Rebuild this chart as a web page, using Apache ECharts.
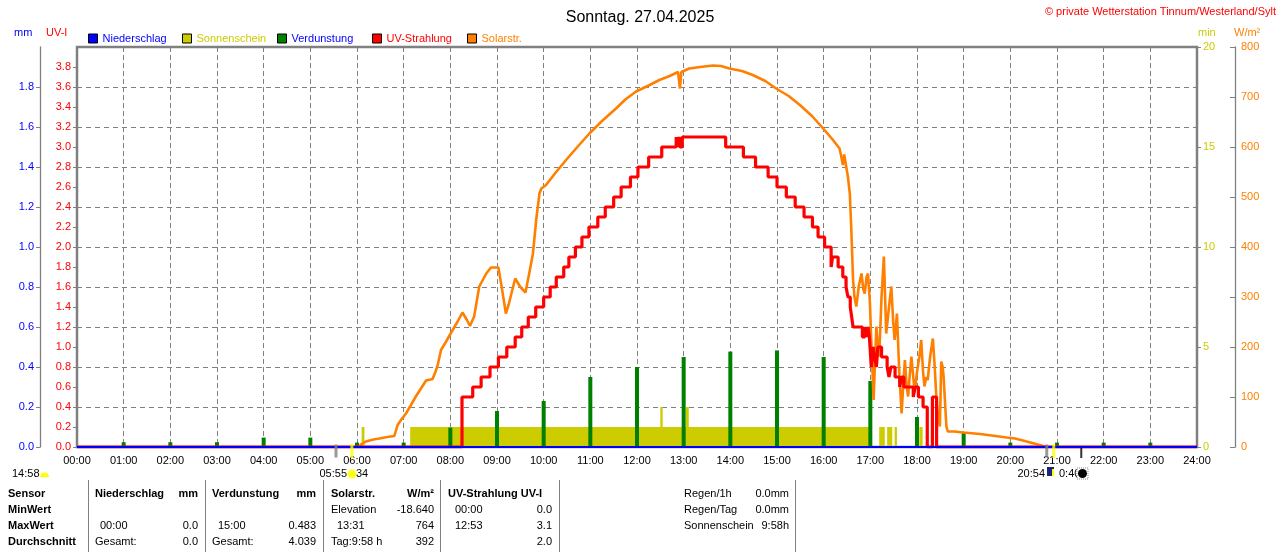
<!DOCTYPE html>
<html><head><meta charset="utf-8">
<script src="https://cdn.jsdelivr.net/npm/echarts/dist/echarts.min.js"></script>
<style>html,body{margin:0;padding:0;background:#fff}#c{width:1280px;height:552px}</style>
</head><body><div id="c"></div>
<script>
// ---- data (time in hours of day) ----
const titleText = 'Sonntag. 27.04.2025';
const seriesNames = ['Niederschlag', 'Sonnenschein', 'Verdunstung', 'UV-Strahlung', 'Solarstr.'];
const niederschlag = [[0,0],[1,0],[2,0],[3,0],[4,0],[5,0],[6,0],[7,0],[8,0],[9,0],[10,0],[11,0],[12,0],[13,0],[14,0],[15,0],[16,0],[17,0],[18,0],[19,0],[20,0],[21,0],[22,0],[23,0],[24,0]];
const verdunstung = [[1,0.024],[2,0.024],[3,0.024],[4,0.047],[5,0.047],[6,0.022],[7,0.022],[8,0.097],[9,0.18],[10,0.23],[11,0.35],[12,0.40],[13,0.45],[14,0.477],[15,0.483],[16,0.45],[17,0.33],[18,0.15],[19,0.07],[20,0.022],[21,0.022],[22,0.022],[23,0.022]];
const sonnenschein = [[6.10,6.16,1],[7.14,16.97,1],[12.50,12.55,2],[13.05,13.11,2],[17.19,17.31,1],[17.36,17.47,1],[17.52,17.57,1],[18.05,18.12,1]];
const uvStrahlung = [[0,0],[8.25,0.5],[8.48,0.6],[8.66,0.7],[8.85,0.8],[9.03,0.9],[9.21,1.0],[9.39,1.1],[9.53,1.2],[9.67,1.3],[9.83,1.4],[10.00,1.5],[10.14,1.6],[10.27,1.7],[10.43,1.8],[10.54,1.9],[10.68,2.0],[10.82,2.1],[10.97,2.2],[11.16,2.3],[11.32,2.4],[11.50,2.5],[11.66,2.6],[11.86,2.7],[12.02,2.8],[12.25,2.9],[12.53,3.0],[12.84,3.1],[12.87,3.0],[12.90,3.1],[12.92,3.0],[12.97,3.1],[13.90,3.0],[14.28,2.9],[14.54,2.8],[14.81,2.7],[15.00,2.6],[15.20,2.5],[15.39,2.4],[15.58,2.3],[15.76,2.2],[15.88,2.1],[16.02,2.0],[16.16,1.8],[16.19,1.9],[16.31,1.8],[16.41,1.7],[16.48,1.6],[16.52,1.5],[16.57,1.4],[16.60,1.3],[16.63,1.2],[16.83,1.1],[16.88,1.2],[16.91,1.1],[16.95,1.2],[16.98,1.1],[17.02,0.8],[17.06,1.0],[17.09,0.9],[17.13,0.8],[17.16,1.0],[17.24,0.9],[17.31,0.9],[17.36,0.8],[17.40,0.7],[17.44,0.8],[17.53,0.7],[17.63,0.6],[17.67,0.7],[17.72,0.6],[17.92,0.5],[17.96,0.6],[18.03,0.5],[18.13,0.4],[18.22,0],[18.33,0.5],[18.42,0],[24,0]];
const solarStr = [[6.03,0],[6.10,6],[6.19,11],[6.35,15],[6.48,17],[6.65,20],[6.80,22],[6.87,44],[6.95,55],[7.05,67],[7.15,83],[7.26,101],[7.37,117],[7.48,133],[7.62,136],[7.68,150],[7.73,164],[7.80,194],[7.91,211],[8.05,234],[8.15,250],[8.26,269],[8.35,255],[8.42,242],[8.51,261],[8.62,321],[8.77,347],[8.87,359],[9.03,359],[9.10,320],[9.19,267],[9.25,285],[9.39,337],[9.50,320],[9.61,309],[9.69,347],[9.77,387],[9.84,454],[9.91,507],[9.95,517],[10.05,524],[10.25,548],[10.48,574],[10.75,603],[10.98,627],[11.25,652],[11.55,677],[11.75,695],[11.98,711],[12.25,723],[12.48,734],[12.70,742],[12.88,750],[12.92,717],[12.95,750],[13.12,757],[13.35,760],[13.63,763],[13.80,762],[13.98,757],[14.25,752],[14.48,744],[14.75,732],[14.98,717],[15.25,702],[15.49,684],[15.75,662],[15.99,637],[16.20,614],[16.34,597],[16.38,580],[16.41,564],[16.44,585],[16.47,581],[16.52,540],[16.56,507],[16.59,441],[16.63,334],[16.66,300],[16.70,281],[16.75,320],[16.81,347],[16.85,315],[16.88,307],[16.92,340],[16.95,347],[16.99,290],[17.02,214],[17.07,94],[17.10,170],[17.13,241],[17.16,200],[17.19,181],[17.24,300],[17.29,381],[17.32,290],[17.34,227],[17.40,280],[17.45,321],[17.49,250],[17.52,214],[17.57,267],[17.62,150],[17.67,67],[17.71,130],[17.74,174],[17.78,120],[17.81,101],[17.85,150],[17.88,181],[17.92,140],[17.95,110],[18.00,150],[18.05,180],[18.09,214],[18.13,150],[18.16,121],[18.20,140],[18.23,134],[18.28,180],[18.34,217],[18.38,160],[18.41,107],[18.45,60],[18.49,41],[18.52,171],[18.55,160],[18.57,141],[18.60,90],[18.63,41],[18.66,31],[18.80,31],[18.99,29],[19.35,26],[19.60,23],[19.92,19],[20.10,17],[20.35,11],[20.55,6],[20.70,2],[20.80,0]];
// twilight / sunrise-sunset / moon markers below the time axis
const markerTimes = [5.55, 5.89, 20.78, 20.93, 21.52];
const markerKinds = ['twilight', 'sun', 'twilight', 'sun', 'moon'];
// axis ranges
const uvRange = [0, 4, 0.2];
const mmRange = [0, 2, 0.2];
const minRange = [0, 20, 5];
const wRange = [0, 800, 100];
// table texts
const tableHeader = ['Sensor', 'Niederschlag', 'mm', 'Verdunstung', 'mm', 'Solarstr.', 'W/m²', 'UV-Strahlung UV-I'];
const tableRowNames = ['MinWert', 'MaxWert', 'Durchschnitt'];
const tableNieder = [['', ''], ['00:00', '0.0'], ['Gesamt:', '0.0']];
const tableVerd = [['', ''], ['15:00', '0.483'], ['Gesamt:', '4.039']];
const tableSolar = [['Elevation', '-18.640'], ['13:31', '764'], ['Tag:9:58 h', '392']];
const tableUV = [['00:00', '0.0'], ['12:53', '3.1'], ['', '2.0']];
const tableRain = [['Regen/1h', '0.0mm'], ['Regen/Tag', '0.0mm'], ['Sonnenschein', '9:58h']];
const sunInfo = ['14:58', '05:55', '34', '20:54', '0:40'];

// ---- chart ----
const FONT = '"Liberation Sans", Arial, sans-serif';
const C = { blue: '#0000ff', yel: '#cccc00', green: '#008000', red: '#ff0000', orange: '#ff8000', grey: '#808080' };
const chart = echarts.init(document.getElementById('c'));

const markerStyle = { twilight: { color: C.grey, size: [3, 13], off: 4 }, sun: { color: '#ffff00', size: [3, 14], off: 4 }, moon: { color: '#000', size: [2, 10], off: 6 } };

const legendDefs = [
  { name: seriesNames[0], x: 88, fill: C.blue, text: C.blue },
  { name: seriesNames[1], x: 182, fill: C.yel, text: C.yel },
  { name: seriesNames[2], x: 277, fill: C.green, text: C.blue },
  { name: seriesNames[3], x: 372, fill: C.red, text: C.red },
  { name: seriesNames[4], x: 467, fill: C.orange, text: C.orange }
];

function txt(x, y, s, opt) {
  opt = opt || {};
  return { type: 'text', x: x, y: y, z: 100, silent: true,
    style: { text: s, fill: opt.color || '#000', font: (opt.bold ? 'bold ' : '') + (opt.size || 11) + 'px ' + FONT,
      align: opt.align || 'left', verticalAlign: 'middle' } };
}

const graphics = [];
// axis names
graphics.push(txt(14, 33, 'mm', { color: C.blue }));
graphics.push(txt(46, 33, 'UV-I', { color: C.red }));
graphics.push(txt(1198, 33, 'min', { color: C.yel }));
graphics.push(txt(1234, 33, 'W/m²', { color: C.orange }));
graphics.push(txt(1276, 12, '© private Wetterstation Tinnum/Westerland/Sylt', { color: C.red, align: 'right' }));
// sun info line
graphics.push(txt(12, 474, sunInfo[0]));
graphics.push({ type: 'sector', z: 100, shape: { cx: 44.5, cy: 477, r: 4.5, startAngle: Math.PI, endAngle: Math.PI * 2 }, style: { fill: '#ffff00' } });
graphics.push(txt(347, 474, sunInfo[1], { align: 'right' }));
graphics.push({ type: 'circle', z: 100, shape: { cx: 352, cy: 474, r: 4.5 }, style: { fill: '#ffff00', stroke: '#ffffa0', lineWidth: 1.5 } });
graphics.push(txt(356, 474, sunInfo[2]));
graphics.push(txt(1045, 474, sunInfo[3], { align: 'right' }));
graphics.push({ type: 'rect', z: 100, shape: { x: 1047, y: 467, width: 7, height: 9 }, style: { fill: '#1a237e' } });
graphics.push({ type: 'rect', z: 100, shape: { x: 1052, y: 469, width: 2, height: 7 }, style: { fill: '#ffff00' } });
graphics.push(txt(1059, 474, sunInfo[4]));
graphics.push({ type: 'rect', z: 100, shape: { x: 1077, y: 468, width: 11, height: 11 }, style: { fill: '#fff', stroke: '#888', lineWidth: 1, lineDash: [1, 1] } });
graphics.push({ type: 'circle', z: 101, shape: { cx: 1082.5, cy: 473.5, r: 4.5 }, style: { fill: '#000' } });
// table separators
[88.5, 205.5, 323.5, 440.5, 559.5, 795.5].forEach(function (x) {
  graphics.push({ type: 'line', z: 100, shape: { x1: x, y1: 480, x2: x, y2: 552 }, style: { stroke: C.grey, lineWidth: 1 } });
});
// table
const rowsY = [494, 510, 526, 542];
graphics.push(txt(8, rowsY[0], tableHeader[0], { bold: true }));
graphics.push(txt(95, rowsY[0], tableHeader[1], { bold: true }));
graphics.push(txt(198, rowsY[0], tableHeader[2], { bold: true, align: 'right' }));
graphics.push(txt(212, rowsY[0], tableHeader[3], { bold: true }));
graphics.push(txt(316, rowsY[0], tableHeader[4], { bold: true, align: 'right' }));
graphics.push(txt(331, rowsY[0], tableHeader[5], { bold: true }));
graphics.push(txt(434, rowsY[0], tableHeader[6], { bold: true, align: 'right' }));
graphics.push(txt(448, rowsY[0], tableHeader[7], { bold: true }));
tableRowNames.forEach(function (n, i) {
  const y = rowsY[i + 1];
  graphics.push(txt(8, y, n, { bold: true }));
  const nl = tableNieder[i][0];
  graphics.push(txt(nl === 'Gesamt:' ? 95 : 100, y, nl));
  graphics.push(txt(198, y, tableNieder[i][1], { align: 'right' }));
  const vl = tableVerd[i][0];
  graphics.push(txt(vl === 'Gesamt:' ? 212 : 218, y, vl));
  graphics.push(txt(316, y, tableVerd[i][1], { align: 'right' }));
  const sl = tableSolar[i][0];
  graphics.push(txt(i === 1 ? 337 : 331, y, sl));
  graphics.push(txt(434, y, tableSolar[i][1], { align: 'right' }));
  graphics.push(txt(455, y, tableUV[i][0]));
  graphics.push(txt(552, y, tableUV[i][1], { align: 'right' }));
  graphics.push(txt(684, rowsY[i], tableRain[i][0]));
  graphics.push(txt(789, rowsY[i], tableRain[i][1], { align: 'right' }));
});

const labelBase = { fontFamily: FONT, fontSize: 11 };

const option = {
  animation: false,
  backgroundColor: '#fff',
  title: { text: titleText, left: 'center', top: 5, textStyle: { fontFamily: FONT, fontSize: 16, fontWeight: 'normal', color: '#000' } },
  legend: legendDefs.map(function (d) {
    return { left: d.x, top: 33, itemWidth: 9, itemHeight: 9, itemGap: 0, padding: 0, selectedMode: false, icon: 'rect',
      textStyle: { fontFamily: FONT, fontSize: 11, color: d.text, padding: [0, 0, 0, 0] },
      data: [{ name: d.name, icon: 'rect', itemStyle: { color: d.fill, borderColor: '#000', borderWidth: 1 } }] };
  }),
  grid: { left: 77, right: 83, top: 47, bottom: 105, show: true, borderColor: C.grey, borderWidth: 2.5, outerBoundsMode: 'none', containLabel: false },
  xAxis: {
    type: 'value', min: 0, max: 24, interval: 1,
    axisLine: { show: false }, axisTick: { show: false },
    axisLabel: Object.assign({ color: '#000', margin: 8, formatter: function (v) { return (v < 10 ? '0' : '') + v + ':00'; } }, labelBase),
    splitLine: { show: true, lineStyle: { color: C.grey, type: [5, 3], width: 1 } }
  },
  yAxis: [
    { type: 'value', position: 'left', offset: 0, min: uvRange[0], max: uvRange[1], interval: uvRange[2],
      axisLine: { show: false }, axisTick: { show: true, length: 4, lineStyle: { color: C.grey } },
      axisLabel: Object.assign({ color: C.red, margin: 6, showMaxLabel: false, formatter: function (v) { return v.toFixed(1); } }, labelBase),
      splitLine: { show: false } },
    { type: 'value', position: 'left', offset: 37, min: mmRange[0], max: mmRange[1], interval: mmRange[2],
      axisLine: { show: true, lineStyle: { color: C.grey, width: 1.3 } }, axisTick: { show: true, length: 4, lineStyle: { color: C.grey } },
      axisLabel: Object.assign({ color: C.blue, margin: 6, showMaxLabel: false, formatter: function (v) { return v.toFixed(1); } }, labelBase),
      splitLine: { show: true, lineStyle: { color: C.grey, type: [5, 4], width: 1 } } },
    { type: 'value', position: 'right', offset: 0, min: minRange[0], max: minRange[1], interval: minRange[2],
      axisLine: { show: false }, axisTick: { show: true, length: 4, lineStyle: { color: C.grey } },
      axisLabel: Object.assign({ color: C.yel, margin: 6 }, labelBase),
      splitLine: { show: false } },
    { type: 'value', position: 'right', offset: 38, min: wRange[0], max: wRange[1], interval: wRange[2],
      axisLine: { show: true, lineStyle: { color: C.grey, width: 1.3 } }, axisTick: { show: true, inside: true, length: 5, lineStyle: { color: C.grey } },
      axisLabel: Object.assign({ color: C.orange, margin: 6 }, labelBase),
      splitLine: { show: false } }
  ],
  graphic: graphics,
  series: [
    { name: seriesNames[1], type: 'custom', xAxisIndex: 0, yAxisIndex: 2, z: 2,
      data: sonnenschein, encode: { x: [0, 1], y: 2 },
      renderItem: function (params, api) {
        const a = api.coord([api.value(0), api.value(2)]);
        const b = api.coord([api.value(1), 0]);
        return { type: 'rect', shape: { x: a[0], y: a[1], width: Math.max(1, b[0] - a[0]), height: b[1] - a[1] }, style: { fill: C.yel } };
      } },
    { name: seriesNames[2], type: 'bar', xAxisIndex: 0, yAxisIndex: 1, z: 3, barWidth: 4,
      itemStyle: { color: C.green }, data: verdunstung },
    { name: seriesNames[4], type: 'line', xAxisIndex: 0, yAxisIndex: 3, z: 4, showSymbol: false, symbol: 'none',
      lineStyle: { color: C.orange, width: 2.6 }, itemStyle: { color: C.orange }, data: solarStr },
    { name: seriesNames[3], type: 'line', xAxisIndex: 0, yAxisIndex: 0, z: 5, showSymbol: false, symbol: 'none', step: 'end',
      lineStyle: { color: C.red, width: 3.2 }, itemStyle: { color: C.red }, data: uvStrahlung },
    { name: seriesNames[0], type: 'line', xAxisIndex: 0, yAxisIndex: 1, z: 6, showSymbol: false, symbol: 'none',
      lineStyle: { color: C.blue, width: 2 }, itemStyle: { color: C.blue }, data: niederschlag },
    { name: 'Marker', type: 'scatter', xAxisIndex: 0, yAxisIndex: 0, z: 7, clip: false, silent: true,
      data: markerTimes.map(function (t, i) {
        const s = markerStyle[markerKinds[i]];
        return { value: [t, 0], symbol: 'rect', symbolSize: s.size, symbolOffset: [0, s.off], itemStyle: { color: s.color } };
      }) }
  ]
};
chart.setOption(option);
</script></body></html>
